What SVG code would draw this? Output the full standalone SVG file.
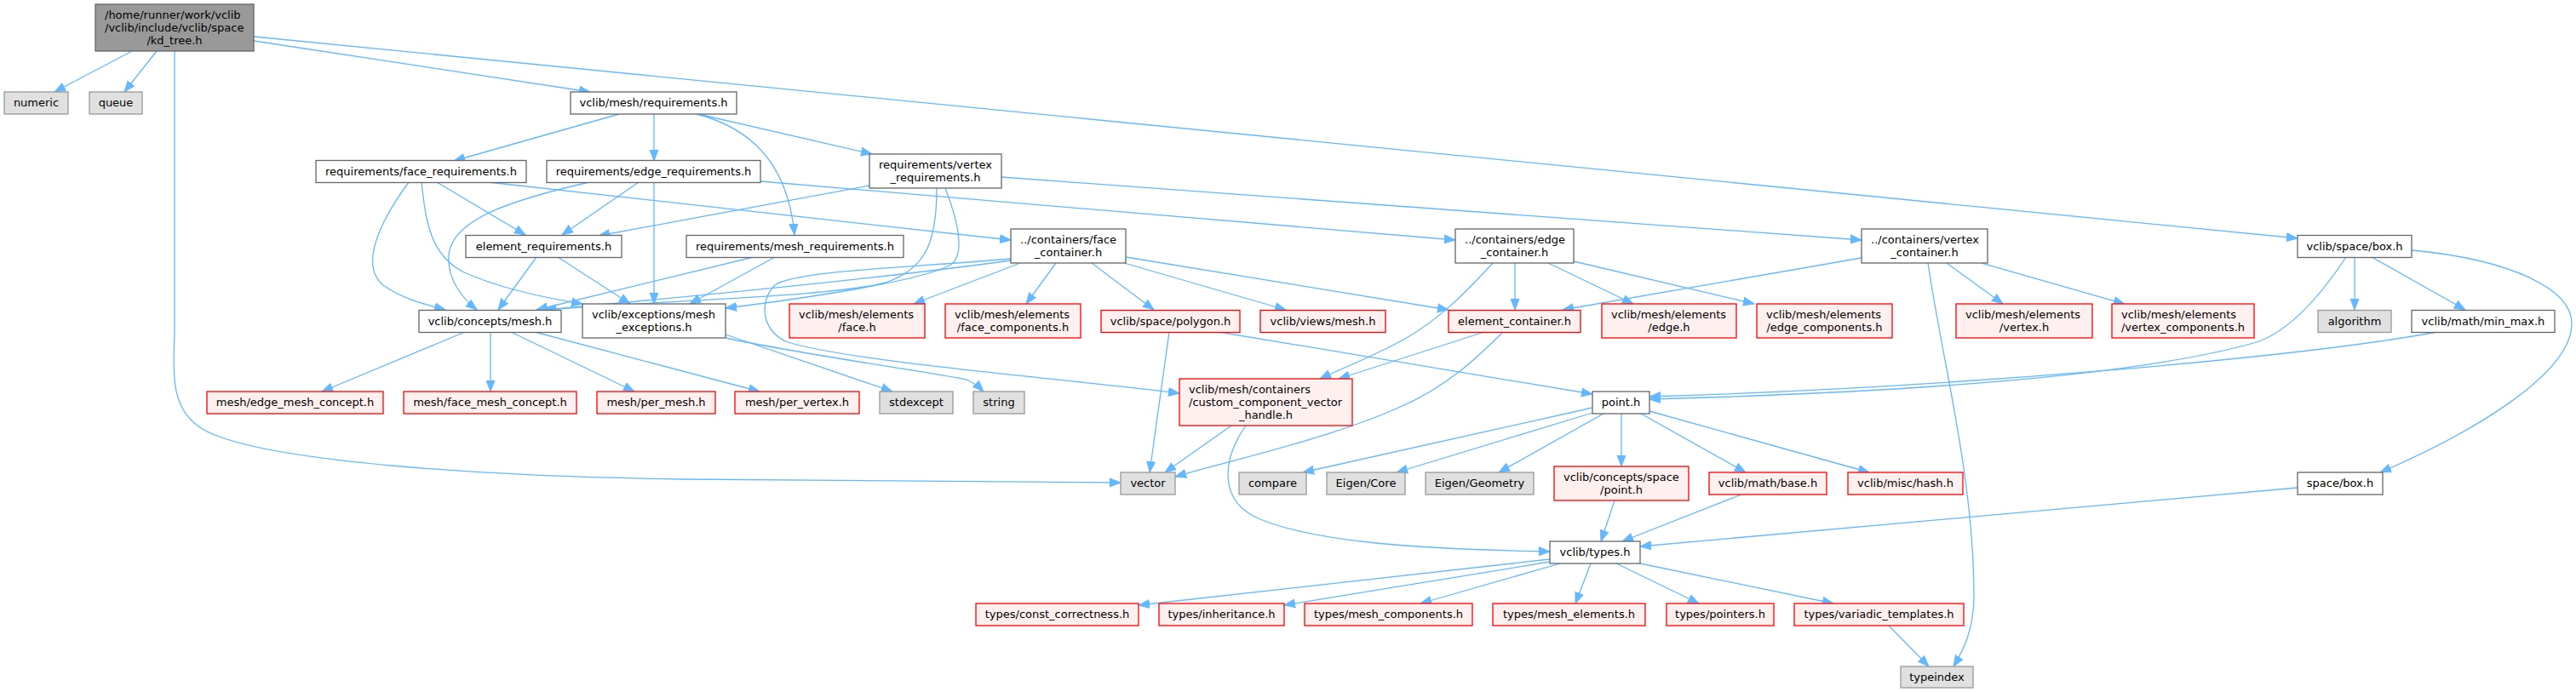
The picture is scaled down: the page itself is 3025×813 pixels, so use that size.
<svg xmlns="http://www.w3.org/2000/svg" width="3025" height="813" viewBox="0 0 3025 813">
<style>
rect{stroke-width:1.3}
.m rect{fill:#999999;stroke:#666666}
.w rect{fill:#ffffff;stroke:#666666}
.r rect{fill:#fff0f0;stroke:#ff0000}
.s rect{fill:#e0e0e0;stroke:#999999}
text{font-family:"DejaVu Sans","Liberation Sans",sans-serif;font-size:13px;fill:#000000}
.c{text-anchor:middle}
#edges path{fill:none;stroke:#63b8ff;stroke-width:1.3;marker-end:url(#ah)}
</style>
<defs>
<marker id="ah" markerUnits="userSpaceOnUse" markerWidth="14" markerHeight="12" viewBox="0 0 14 12" refX="13" refY="6" orient="auto">
<path d="M0,1 L13,6 L0,11 z" fill="#63b8ff" stroke="#63b8ff" stroke-width="1"/>
</marker>
</defs>
<rect x="0" y="0" width="3025" height="813" fill="#ffffff"/>
<g id="edges">
<path d="M155,60 L64,108"/>
<path d="M184,60 L146,108"/>
<path d="M205,60 L205,388 C204,430 198,475 232,500 C290,545 600,560 800,563 L1316,567"/>
<path d="M298,48 L693,108"/>
<path d="M298,43 L2698,280"/>
<path d="M727,134 L533,189"/>
<path d="M768,134 L768,189"/>
<path d="M818,134 C880,150 925,190 933,276"/>
<path d="M820,134 L1024,181"/>
<path d="M480,214 C450,255 420,310 450,335 C470,350 500,358 523,364"/>
<path d="M495,214 C500,260 505,300 545,320 C590,340 640,350 684,357"/>
<path d="M513,214 L617,276"/>
<path d="M573,214 L1187,282"/>
<path d="M692,214 C600,235 530,258 527,300 C525,330 545,352 560,364"/>
<path d="M750,214 L660,276"/>
<path d="M768,214 L768,357"/>
<path d="M893,213 L1709,282"/>
<path d="M1021,218 L703,277"/>
<path d="M1100,221 C1100,280 1090,315 1040,332 C980,348 800,352 640,364"/>
<path d="M1110,221 C1125,260 1135,300 1115,312 C1080,330 950,350 852,362"/>
<path d="M1176,208 L2186,282"/>
<path d="M885,302 L630,364"/>
<path d="M910,302 L810,357"/>
<path d="M630,302 L585,364"/>
<path d="M655,302 L740,357"/>
<path d="M546,390 L378,460"/>
<path d="M576,390 L576,460"/>
<path d="M600,390 L745,460"/>
<path d="M628,390 L892,460"/>
<path d="M852,393 L1048,460"/>
<path d="M852,397 C950,418 1100,438 1135,446 C1145,450 1150,455 1155,460"/>
<path d="M1187,306 C1050,325 850,345 640,364"/>
<path d="M1187,304 C1060,315 935,318 910,335 C890,355 895,390 925,402 C1000,425 1250,445 1385,462"/>
<path d="M1198,309 L1073,357"/>
<path d="M1240,309 L1205,357"/>
<path d="M1282,309 L1355,364"/>
<path d="M1320,309 L1510,364"/>
<path d="M1322,302 L1701,364"/>
<path d="M1779,309 L1779,364"/>
<path d="M1818,309 L1918,357"/>
<path d="M1848,307 L2060,357"/>
<path d="M1753,309 C1720,345 1690,375 1650,398 C1610,420 1575,433 1550,445"/>
<path d="M2186,303 L1835,364"/>
<path d="M2264,309 C2280,420 2318,560 2318,700 C2318,740 2305,765 2294,783"/>
<path d="M2286,309 L2352,357"/>
<path d="M2327,309 L2495,357"/>
<path d="M2755,302 C2720,355 2685,390 2650,402 C2500,445 2200,462 1937,469"/>
<path d="M2765,302 L2765,364"/>
<path d="M2785,302 L2895,364"/>
<path d="M2832,294 C2950,305 3020,340 3020,380 C3020,440 2900,510 2795,555"/>
<path d="M2862,390 C2700,420 2300,455 1937,466"/>
<path d="M1373,390 L1350,555"/>
<path d="M1431,390 L1870,463"/>
<path d="M1743,390 L1572,445"/>
<path d="M1765,390 C1740,415 1700,455 1640,480 C1560,515 1450,540 1380,560"/>
<path d="M1446,500 L1368,555"/>
<path d="M1463,500 C1435,540 1430,590 1480,610 C1540,635 1650,645 1820,648"/>
<path d="M1870,479 L1530,555"/>
<path d="M1870,485 L1640,555"/>
<path d="M1883,486 L1760,555"/>
<path d="M1904,486 L1904,548"/>
<path d="M1927,486 L2050,555"/>
<path d="M1937,483 L2195,555"/>
<path d="M1896,588 L1880,636"/>
<path d="M2045,581 L1905,636"/>
<path d="M2698,573 L1926,642"/>
<path d="M1820,657 L1337,711"/>
<path d="M1820,660 L1508,711"/>
<path d="M1832,662 L1668,709"/>
<path d="M1868,662 L1850,709"/>
<path d="M1898,662 L1995,709"/>
<path d="M1926,662 L2153,709"/>
<path d="M2218,735 L2265,783"/>
</g>
<g id="n_kdtree" class="m"><rect x="112" y="5" width="186" height="55"/><text x="123" y="21.5">/home/runner/work/vclib</text><text x="123" y="36.5">/vclib/include/vclib/space</text><text class="c" x="205" y="51.5">/kd_tree.h</text></g>
<g id="n_numeric" class="s"><rect x="5" y="108" width="75" height="26"/><text class="c" x="42.5" y="125">numeric</text></g>
<g id="n_queue" class="s"><rect x="105" y="108" width="62" height="26"/><text class="c" x="136" y="125">queue</text></g>
<g id="n_req" class="w"><rect x="670" y="108" width="195" height="26"/><text class="c" x="767.5" y="125">vclib/mesh/requirements.h</text></g>
<g id="n_facereq" class="w"><rect x="371" y="188.5" width="247" height="26"/><text class="c" x="494.5" y="205.5">requirements/face_requirements.h</text></g>
<g id="n_edgereq" class="w"><rect x="642" y="188.5" width="251" height="26"/><text class="c" x="767.5" y="205.5">requirements/edge_requirements.h</text></g>
<g id="n_vertreq" class="w"><rect x="1021" y="181" width="155" height="40"/><text x="1032" y="197.5">requirements/vertex</text><text class="c" x="1098.5" y="212.5">_requirements.h</text></g>
<g id="n_elemreq" class="w"><rect x="547" y="276.5" width="183" height="26"/><text class="c" x="638.5" y="293.5">element_requirements.h</text></g>
<g id="n_meshreq" class="w"><rect x="806" y="276.5" width="255" height="26"/><text class="c" x="933.5" y="293.5">requirements/mesh_requirements.h</text></g>
<g id="n_facecont" class="w"><rect x="1187" y="269" width="135" height="40"/><text x="1198" y="285.5">../containers/face</text><text class="c" x="1254.5" y="300.5">_container.h</text></g>
<g id="n_edgecont" class="w"><rect x="1709" y="269" width="139" height="40"/><text x="1720" y="285.5">../containers/edge</text><text class="c" x="1778.5" y="300.5">_container.h</text></g>
<g id="n_vertcont" class="w"><rect x="2186" y="269" width="148" height="40"/><text x="2197" y="285.5">../containers/vertex</text><text class="c" x="2260" y="300.5">_container.h</text></g>
<g id="n_spacebox" class="w"><rect x="2698" y="276.5" width="134" height="26"/><text class="c" x="2765" y="293.5">vclib/space/box.h</text></g>
<g id="n_conceptsmesh" class="w"><rect x="492" y="364.5" width="167" height="26"/><text class="c" x="575.5" y="381.5">vclib/concepts/mesh.h</text></g>
<g id="n_meshexc" class="w"><rect x="684" y="357" width="168" height="40"/><text x="695" y="373.5">vclib/exceptions/mesh</text><text class="c" x="768" y="388.5">_exceptions.h</text></g>
<g id="n_elface" class="r"><rect x="927" y="357" width="159" height="40"/><text x="938" y="373.5">vclib/mesh/elements</text><text class="c" x="1006.5" y="388.5">/face.h</text></g>
<g id="n_elfacecomp" class="r"><rect x="1110" y="357" width="159" height="40"/><text x="1121" y="373.5">vclib/mesh/elements</text><text class="c" x="1189.5" y="388.5">/face_components.h</text></g>
<g id="n_polygon" class="r"><rect x="1293" y="364.5" width="163" height="26"/><text class="c" x="1374.5" y="381.5">vclib/space/polygon.h</text></g>
<g id="n_viewsmesh" class="r"><rect x="1480" y="364.5" width="147" height="26"/><text class="c" x="1553.5" y="381.5">vclib/views/mesh.h</text></g>
<g id="n_elemcont" class="r"><rect x="1701" y="364.5" width="155" height="26"/><text class="c" x="1778.5" y="381.5">element_container.h</text></g>
<g id="n_eledge" class="r"><rect x="1881" y="357" width="158" height="40"/><text x="1892" y="373.5">vclib/mesh/elements</text><text class="c" x="1960" y="388.5">/edge.h</text></g>
<g id="n_eledgecomp" class="r"><rect x="2063" y="357" width="159" height="40"/><text x="2074" y="373.5">vclib/mesh/elements</text><text class="c" x="2142.5" y="388.5">/edge_components.h</text></g>
<g id="n_elvertex" class="r"><rect x="2297" y="357" width="160" height="40"/><text x="2308" y="373.5">vclib/mesh/elements</text><text class="c" x="2377" y="388.5">/vertex.h</text></g>
<g id="n_elvertexcomp" class="r"><rect x="2480" y="357" width="167" height="40"/><text x="2491" y="373.5">vclib/mesh/elements</text><text class="c" x="2563.5" y="388.5">/vertex_components.h</text></g>
<g id="n_algorithm" class="s"><rect x="2722" y="364.5" width="86" height="26"/><text class="c" x="2765" y="381.5">algorithm</text></g>
<g id="n_minmax" class="w"><rect x="2832" y="364.5" width="168" height="26"/><text class="c" x="2916" y="381.5">vclib/math/min_max.h</text></g>
<g id="n_edgemeshconcept" class="r"><rect x="243" y="460" width="207" height="26"/><text class="c" x="346.5" y="477">mesh/edge_mesh_concept.h</text></g>
<g id="n_facemeshconcept" class="r"><rect x="474" y="460" width="203" height="26"/><text class="c" x="575.5" y="477">mesh/face_mesh_concept.h</text></g>
<g id="n_permesh" class="r"><rect x="701" y="460" width="139" height="26"/><text class="c" x="770.5" y="477">mesh/per_mesh.h</text></g>
<g id="n_pervertex" class="r"><rect x="863" y="460" width="146" height="26"/><text class="c" x="936" y="477">mesh/per_vertex.h</text></g>
<g id="n_stdexcept" class="s"><rect x="1033" y="460" width="86" height="26"/><text class="c" x="1076" y="477">stdexcept</text></g>
<g id="n_string" class="s"><rect x="1143" y="460" width="60" height="26"/><text class="c" x="1173" y="477">string</text></g>
<g id="n_ccvh" class="r"><rect x="1385" y="445" width="203" height="55"/><text x="1396" y="461.5">vclib/mesh/containers</text><text x="1396" y="476.5">/custom_component_vector</text><text class="c" x="1486.5" y="491.5">_handle.h</text></g>
<g id="n_point" class="w"><rect x="1870" y="460" width="67" height="26"/><text class="c" x="1903.5" y="477">point.h</text></g>
<g id="n_vector" class="s"><rect x="1316" y="555" width="64" height="26"/><text class="c" x="1348" y="572">vector</text></g>
<g id="n_compare" class="s"><rect x="1455" y="555" width="79" height="26"/><text class="c" x="1494.5" y="572">compare</text></g>
<g id="n_eigencore" class="s"><rect x="1558" y="555" width="92" height="26"/><text class="c" x="1604" y="572">Eigen/Core</text></g>
<g id="n_eigengeom" class="s"><rect x="1674" y="555" width="127" height="26"/><text class="c" x="1737.5" y="572">Eigen/Geometry</text></g>
<g id="n_cspoint" class="r"><rect x="1825" y="548" width="158" height="40"/><text x="1836" y="564.5">vclib/concepts/space</text><text class="c" x="1904" y="579.5">/point.h</text></g>
<g id="n_mathbase" class="r"><rect x="2007" y="555" width="138" height="26"/><text class="c" x="2076" y="572">vclib/math/base.h</text></g>
<g id="n_mischash" class="r"><rect x="2170" y="555" width="135" height="26"/><text class="c" x="2237.5" y="572">vclib/misc/hash.h</text></g>
<g id="n_spacebox2" class="w"><rect x="2698" y="555" width="100" height="26"/><text class="c" x="2748" y="572">space/box.h</text></g>
<g id="n_types" class="w"><rect x="1820" y="636" width="106" height="26"/><text class="c" x="1873" y="653">vclib/types.h</text></g>
<g id="n_constcorr" class="r"><rect x="1146" y="709" width="191" height="26"/><text class="c" x="1241.5" y="726">types/const_correctness.h</text></g>
<g id="n_inheritance" class="r"><rect x="1361" y="709" width="147" height="26"/><text class="c" x="1434.5" y="726">types/inheritance.h</text></g>
<g id="n_meshcomp" class="r"><rect x="1532" y="709" width="197" height="26"/><text class="c" x="1630.5" y="726">types/mesh_components.h</text></g>
<g id="n_meshelem" class="r"><rect x="1753" y="709" width="179" height="26"/><text class="c" x="1842.5" y="726">types/mesh_elements.h</text></g>
<g id="n_pointers" class="r"><rect x="1957" y="709" width="126" height="26"/><text class="c" x="2020" y="726">types/pointers.h</text></g>
<g id="n_variadic" class="r"><rect x="2107" y="709" width="199" height="26"/><text class="c" x="2206.5" y="726">types/variadic_templates.h</text></g>
<g id="n_typeindex" class="s"><rect x="2232" y="783" width="85" height="25"/><text class="c" x="2274.5" y="800">typeindex</text></g>
</svg>
